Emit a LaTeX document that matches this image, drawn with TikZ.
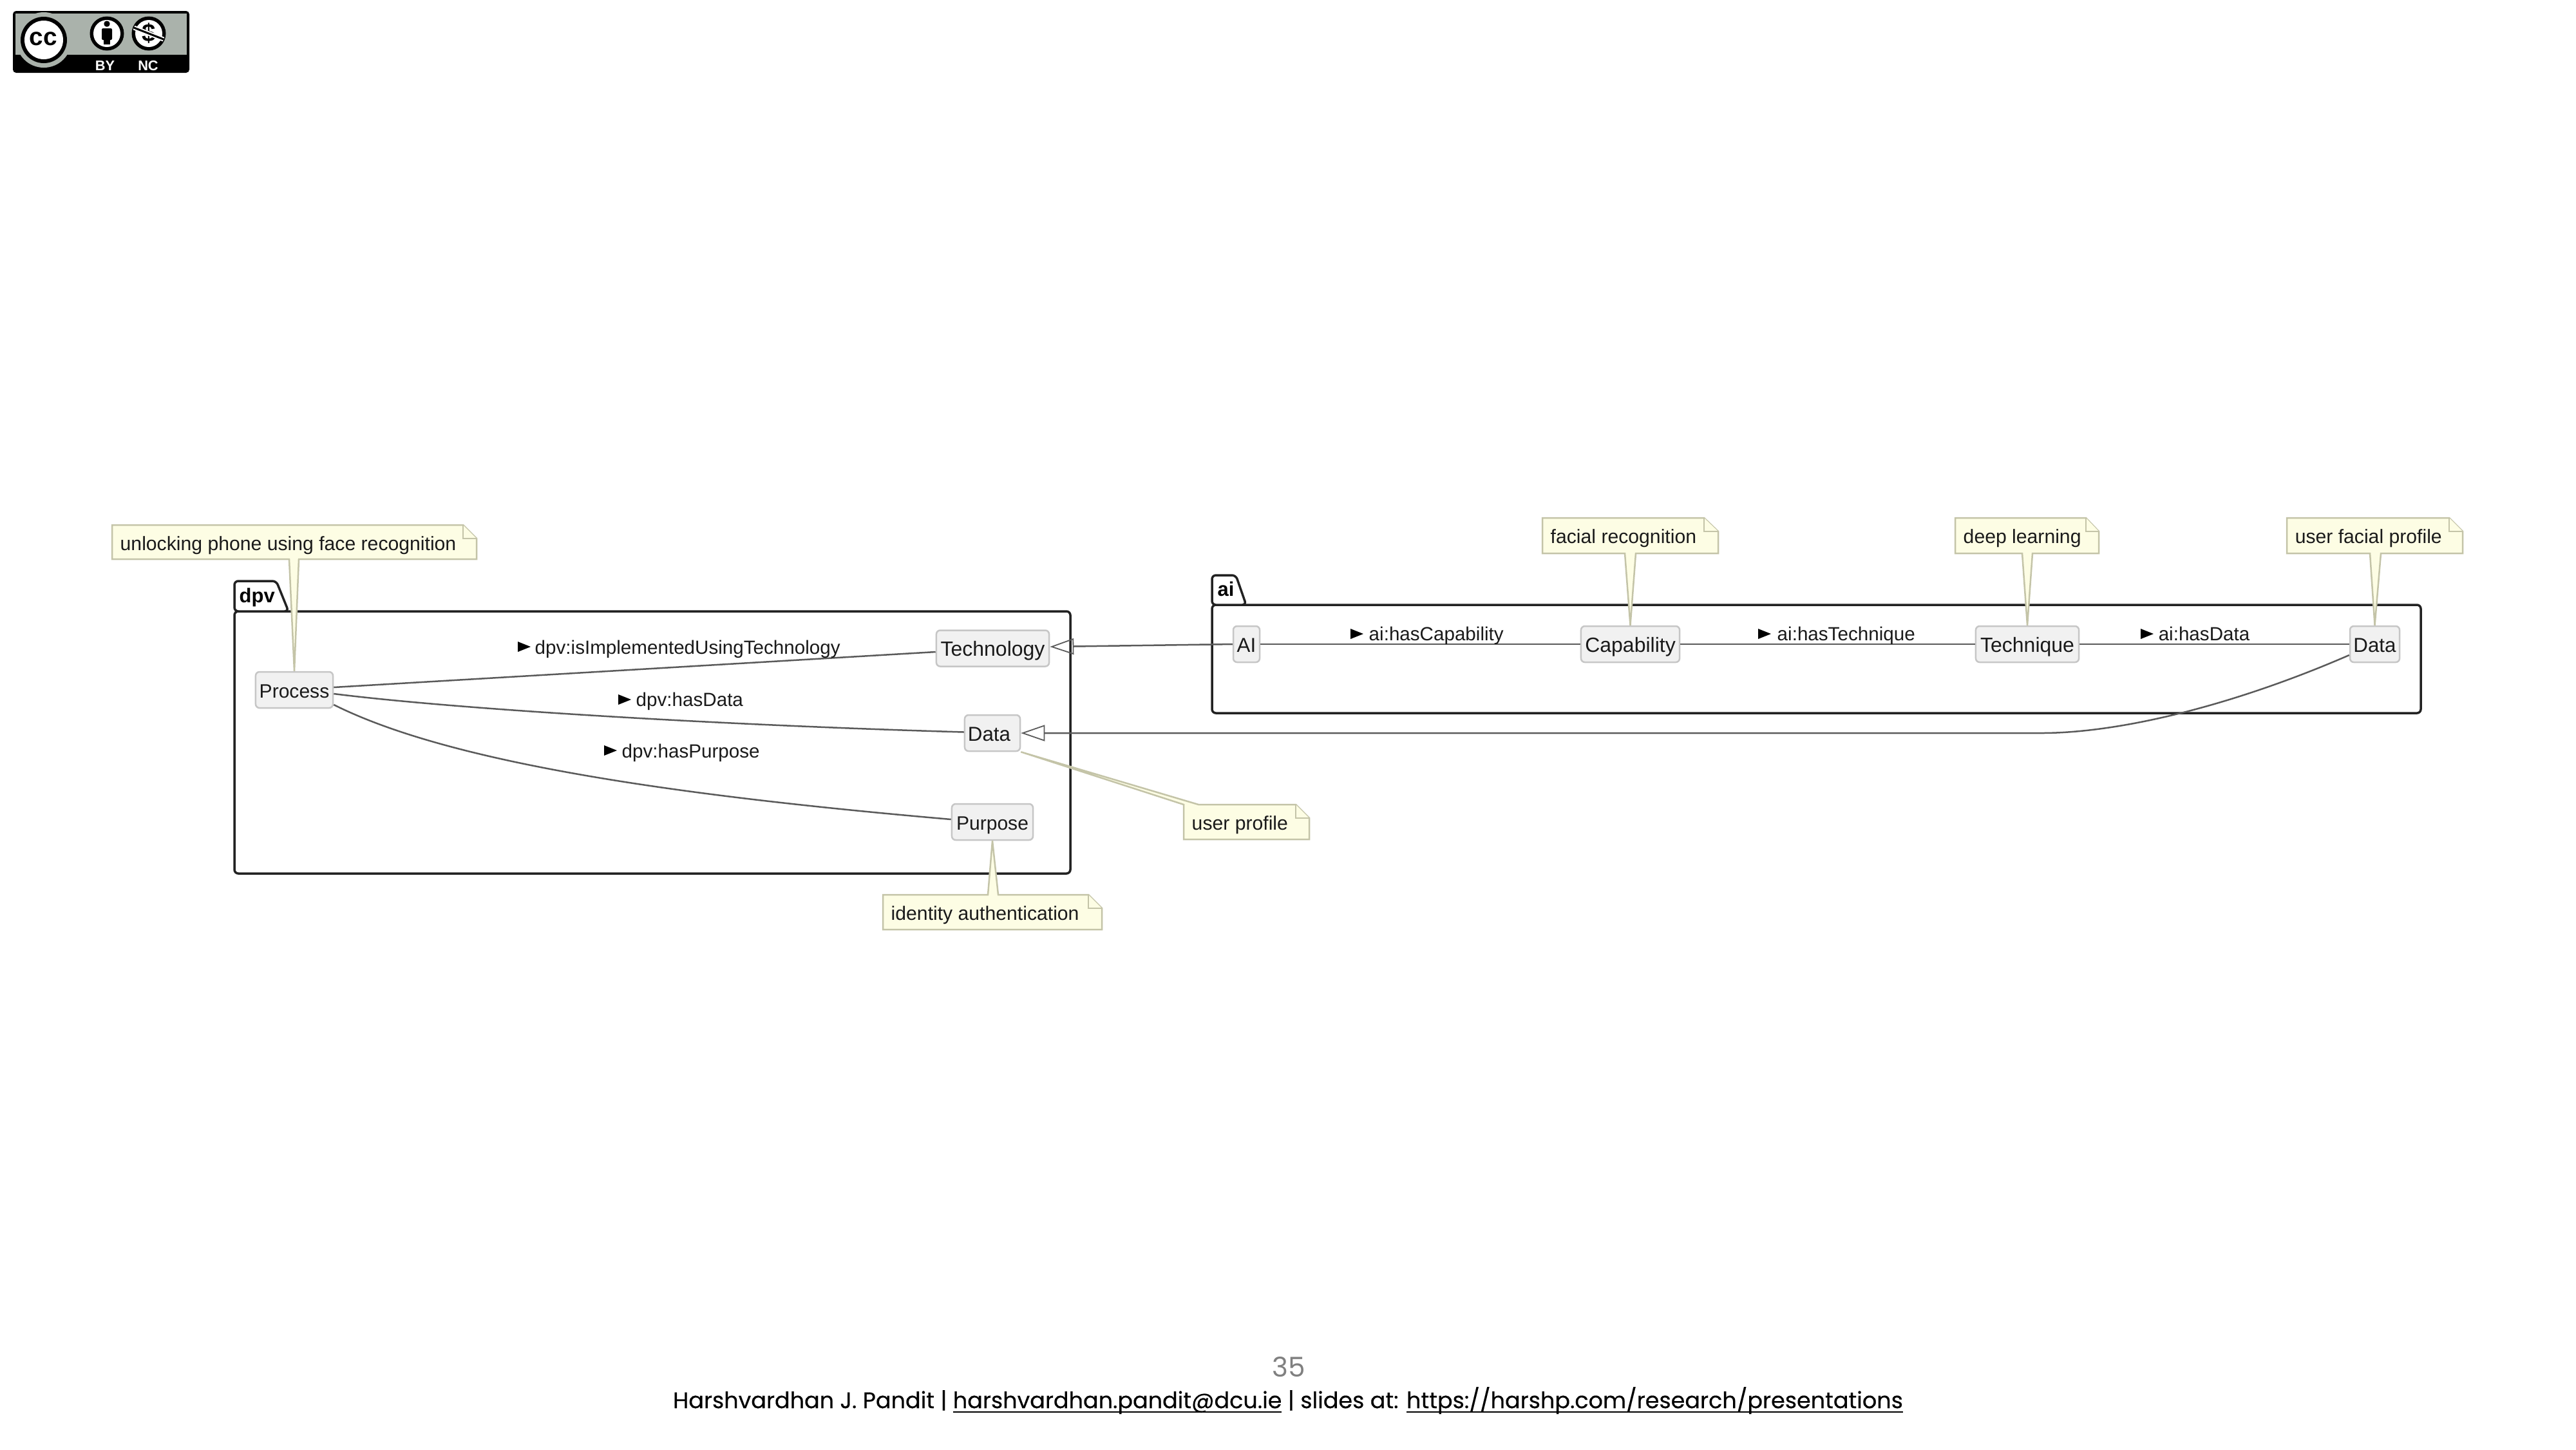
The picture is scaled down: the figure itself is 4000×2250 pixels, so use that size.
\documentclass[tikz,border=0pt]{standalone}
\usepackage{fontspec}
\setmainfont{Liberation Sans}
\newfontfamily\footfont[FakeBold=0.35]{Poppins}
\newfontfamily\numfont{Poppins}
\usetikzlibrary{arrows.meta}
\definecolor{nodefill}{HTML}{F1F1F1}
\definecolor{nodeline}{HTML}{C6C6C6}
\definecolor{notefill}{HTML}{FDFDE4}
\definecolor{noteline}{HTML}{C4C4A8}
\definecolor{wire}{HTML}{5A5A5A}
\definecolor{pkgline}{HTML}{222222}
\definecolor{txt}{HTML}{1A1A1A}
\definecolor{ccgrey}{HTML}{AAB2AB}
\newcommand{\lblfont}{\fontsize{8.42}{10}\selectfont}
\newcommand{\clsfont}{\fontsize{8.9}{10}\selectfont}
\newcommand{\clswide}{\fontsize{9.1}{10}\selectfont}
\newcommand{\clsnarrow}{\fontsize{8.55}{10}\selectfont}
\newcommand{\notefont}{\fontsize{8.58}{10}\selectfont}
\newcommand{\pkgfont}{\fontsize{8.8}{10}\bfseries\selectfont}
\newcommand{\labtri}[2]{\fill[black] (#1,#2-8) -- (#1+20,#2) -- (#1,#2+8) -- cycle;}
\newsavebox{\ulbox}
\newcommand{\ulx}[1]{\sbox{\ulbox}{#1}\rlap{\rule[-2.1pt]{\wd\ulbox}{0.75pt}}\usebox{\ulbox}}
\tikzset{
  cls/.style={draw=nodeline,fill=nodefill,rounded corners=0.06cm,line width=0.025cm,minimum height=0.56cm,inner sep=0pt,text height=0.30cm,text depth=0.06cm,text=txt,font=\clsfont},
  notetxt/.style={anchor=base west,inner sep=0pt,text=txt,font=\notefont},
  noteshape/.style={draw=noteline,fill=notefill,line width=0.025cm,line join=miter},
  lbl/.style={anchor=base west,inner sep=0pt,text=txt,font=\lblfont},
  pkg/.style={draw=pkgline,line width=0.035cm,rounded corners=0.06cm},
  pkgname/.style={anchor=base west,inner sep=0pt,text=black,font=\pkgfont},
  wireline/.style={draw=wire,line width=0.025cm},
  inherit/.style={wireline,-{Triangle[open,length=0.37cm,width=0.25cm,line width=0.018cm]}},
}
\begin{document}
\begin{tikzpicture}[x=0.01cm,y=-0.01cm]
\useasboundingbox (0,0) rectangle (4000,2250);

% --- CC licence badge
\fill[black,rounded corners=0.05cm] (20,17) rectangle (294,113);
\fill[ccgrey] (24,21) rectangle (290,85);
\fill[ccgrey] (68,62) circle (43);
\fill[black] (68,62) circle (36);
\fill[white] (68,62) circle (30);
\node[inner sep=0pt,font=\fontsize{11}{10}\bfseries\selectfont] (cctext) at (67.5,60) {cc};
\fill[black] (166,52) circle (26.5);
\fill[white] (166,52) circle (21);
\fill[black] (166,37) circle (4.7);
\fill[black,rounded corners=0.02cm] (158,44) rectangle (174,62);
\fill[black] (161,58) rectangle (171,69);
\fill[black] (231,52) circle (26.5);
\fill[white] (231,52) circle (21);
\node[inner sep=0pt,font=\fontsize{11}{10}\bfseries\selectfont] (dollar) at (231,52) {\$};
\draw[white,line width=0.07cm] (208,43) -- (254,61);
\draw[black,line width=0.03cm] (208,43) -- (254,61);
\node[inner sep=0pt,text=white,font=\fontsize{6.2}{10}\bfseries\selectfont] (by) at (163,102) {BY};
\node[inner sep=0pt,text=white,font=\fontsize{6.2}{10}\bfseries\selectfont] (nc) at (230,102) {NC};

% --- packages
\draw[pkg] (364,949) rectangle (1662,1356);
\draw[pkg,fill=white] (364,949) -- (364,902) -- (429,902) -- (448,949) -- cycle;
\node[pkgname] (dpvname) at (371,935) {dpv};
\draw[pkg] (1882,939) rectangle (3759,1107);
\draw[pkg,fill=white] (1882,939) -- (1882,893) -- (1919,893) -- (1935,939) -- cycle;
\node[pkgname] (ainame) at (1890,925) {ai};

% --- classes
\node[cls,font=\clsnarrow,minimum width=1.20cm] (process) at (457,1071) {Process};
\node[cls,font=\clswide,minimum width=1.75cm] (technology) at (1541.5,1006.5) {Technology};
\node[cls,minimum width=0.86cm] (dpvdata) at (1541,1138) {Data\kern0.10cm};
\node[cls,font=\clsnarrow,minimum width=1.26cm] (purpose) at (1541,1276) {Purpose};
\node[cls,minimum width=0.41cm] (aiclass) at (1935.5,1000) {AI};
\node[cls,font=\clswide,minimum width=1.53cm] (capability) at (2531.5,1000) {Capability};
\node[cls,font=\clswide,minimum width=1.60cm] (technique) at (3148,1000) {Technique};
\node[cls,minimum width=0.77cm] (aidata) at (3687.5,1000) {Data};

% --- connectors
\draw[wireline] ([yshift=0.04cm]process.east) -- ([yshift=-0.055cm]technology.west);
\draw[wireline] ([yshift=-0.06cm]process.east) .. controls (700,1100) and (1100,1125) .. ([yshift=0.015cm]dpvdata.west);
\draw[wireline] ([yshift=-0.23cm]process.east) .. controls (700,1185) and (1050,1235) .. ([yshift=0.04cm]purpose.west);
\draw[wireline] (aiclass.east) -- (capability.west);
\draw[wireline] (capability.east) -- (technique.west);
\draw[wireline] (technique.east) -- (aidata.west);
\draw[inherit] (aiclass.west) -- ([yshift=0.025cm]technology.east);
\draw[inherit] ([yshift=-0.17cm]aidata.west) .. controls (3480,1090) and (3300,1138) .. (3169,1138) -- (dpvdata.east);

% --- connector labels
\node[lbl] (l1) at (830,1015) {dpv:isImplementedUsingTechnology}; \labtri{804}{1004}
\node[lbl] (l2) at (987,1096) {dpv:hasData}; \labtri{960}{1086}
\node[lbl] (l3) at (965,1176) {dpv:hasPurpose}; \labtri{938}{1165}
\node[lbl] (l4) at (2125,994) {ai:hasCapability}; \labtri{2097}{984}
\node[lbl] (l5) at (2759,994) {ai:hasTechnique}; \labtri{2730}{984}
\node[lbl] (l6) at (3351,994) {ai:hasData}; \labtri{3324}{984}

% --- notes
\draw[noteshape] (174,815) -- (719,815) -- (740,836) -- (740,868) -- (464,868) -- (process.north) -- (449,868) -- (174,868) -- cycle;
\draw[noteshape] (719,815) -- (719,836) -- (740,836);
\node[notetxt] (n1) at (186,854) {unlocking phone using face recognition};

\draw[noteshape] (2395,804) -- (2646,804) -- (2668,825) -- (2668,859) -- (2540,859) -- (capability.north) -- (2523,859) -- (2395,859) -- cycle;
\draw[noteshape] (2646,804) -- (2646,825) -- (2668,825);
\node[notetxt] (n2) at (2407,843) {facial recognition};

\draw[noteshape] (3036,804) -- (3239,804) -- (3259,825) -- (3259,859) -- (3156,859) -- (technique.north) -- (3140,859) -- (3036,859) -- cycle;
\draw[noteshape] (3239,804) -- (3239,825) -- (3259,825);
\node[notetxt] (n3) at (3048,843) {deep learning};

\draw[noteshape] (3551,804) -- (3803,804) -- (3824,825) -- (3824,859) -- (3697,859) -- (aidata.north) -- (3680,859) -- (3551,859) -- cycle;
\draw[noteshape] (3803,804) -- (3803,825) -- (3824,825);
\node[notetxt] (n4) at (3563,843) {user facial profile};

\draw[noteshape] (1838,1303) -- (1838,1249) -- (dpvdata.south east) -- (1861,1249) -- (2012,1249) -- (2033,1270) -- (2033,1303) -- cycle;
\draw[noteshape] (2012,1249) -- (2012,1270) -- (2033,1270);
\node[notetxt] (n5) at (1850,1288) {user profile};

\draw[noteshape] (1371,1389) -- (1534,1389) -- (purpose.south) -- (1550,1389) -- (1690,1389) -- (1711,1410) -- (1711,1443) -- (1371,1443) -- cycle;
\draw[noteshape] (1690,1389) -- (1690,1410) -- (1711,1410);
\node[notetxt] (n6) at (1383,1428) {identity authentication};

% --- footer
\node[inner sep=0pt,text=gray,font=\numfont\fontsize{12}{14}\selectfont] (pagenum) at (2001,2122) {35};
\node[anchor=base,inner sep=0pt,text=black,font=\footfont\fontsize{9.95}{12}\selectfont] (footer) at (2000,2186) {Harshvardhan J. Pandit | \ulx{harshvardhan.pandit@dcu.ie} | slides at: \ulx{https://harshp.com/research/presentations}};
\end{tikzpicture}
\end{document}
